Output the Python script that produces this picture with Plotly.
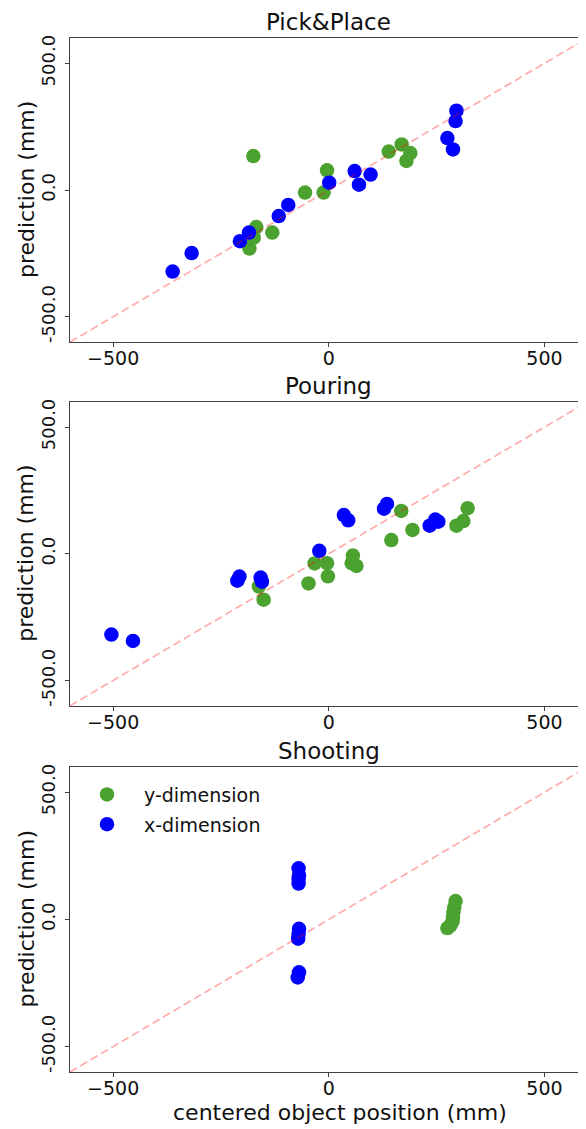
import plotly.graph_objects as go

# ---------------- data ----------------
titles = ["Pick&Place", "Pouring", "Shooting"]

pp_x_true = [-362, -318, -206, -185, -116, -94, 1, 60, 70, 97, 275, 288, 294, 296]
pp_x_pred = [-322, -249, -202, -168, -103, -59, 29, 75, 21, 61, 205, 160, 272, 313]
pp_y_true = [-175, -168, -174, -184, -131, -55, -12, -4, 139, 169, 189, 180]
pp_y_pred = [134, -146, -188, -231, -168, -10, -10, 78, 152, 180, 146, 115]

po_x_true = [-504, -454, -212, -207, -158, -155, -22, 35, 45, 128, 135, 234, 247, 254]
po_x_pred = [-319, -344, -106, -90, -94, -110, 12, 153, 132, 178, 197, 111, 135, 127]
po_y_true = [-162, -151, -47, -33, -4, -2, 56, 53, 64, 145, 168, 194, 296, 312, 322]
po_y_pred = [-129, -181, -117, -38, -37, -89, -7, -37, -48, 54, 169, 94, 111, 129, 180]

sh_x_true = [-70, -69, -70, -69, -70, -71, -69, -72, -70]
sh_x_pred = [201, 174, 141, -37, -57, -76, -208, -228, 160]
sh_y_true = [294, 291, 289, 288, 287, 282, 275]
sh_y_pred = [72, 48, 28, 8, -8, -24, -34]

diag = [-600, 600]
x_ticks = [-500, 0, 500]
x_tick_text = ["\u2212500", "0", "500"]
y_ticks = [-500, 0, 500]
y_tick_text = ["-500.0", "0.0", "500.0"]

panels = [
    (pp_y_true, pp_y_pred, pp_x_true, pp_x_pred),
    (po_y_true, po_y_pred, po_x_true, po_x_pred),
    (sh_y_true, sh_y_pred, sh_x_true, sh_x_pred),
]

# ---------------- layout geometry (page pixels) ----------------
OFF = 8                      # default page body margin
PAGE_W, PAGE_H = 586, 1129
W, H = PAGE_W - OFF, PAGE_H - OFF
P_L, P_T, P_B = 70, 37.5, 1072.0
ML, MR, MT, MB = P_L - OFF, 0, P_T - OFF, PAGE_H - P_B
plot_h = P_B - P_T
plot_w = PAGE_W - P_L
panel_px = [(37.5, 341.7), (401.5, 705.6), (766.7, 1072.0)]

def dom(top, bot):
    return [(P_B - bot) / plot_h, (P_B - top) / plot_h]

def ypaper(py):
    return (P_B - py) / plot_h

GREEN = "#4ca22f"
BLUE = "#0000ff"
LINE = "rgba(255,0,0,0.33)"
FONT = "DejaVu Sans"
AX = "#404040"
TXT = "#111111"

fig = go.Figure()
for i, (yt, yp, xt, xp) in enumerate(panels):
    sfx = "" if i == 0 else str(i + 1)
    fig.add_trace(go.Scatter(
        x=yt, y=yp, mode="markers", name="y-dimension",
        marker=dict(color=GREEN, size=14.5, line=dict(width=0)),
        xaxis="x" + sfx, yaxis="y" + sfx, showlegend=(i == 2),
        legendgroup="g1"))
    fig.add_trace(go.Scatter(
        x=xt, y=xp, mode="markers", name="x-dimension",
        marker=dict(color=BLUE, size=14.5, line=dict(width=0)),
        xaxis="x" + sfx, yaxis="y" + sfx, showlegend=(i == 2),
        legendgroup="g2"))
    fig.add_trace(go.Scatter(
        x=diag, y=diag, mode="lines",
        line=dict(color=LINE, width=1.7, dash="8px,4px"),
        xaxis="x" + sfx, yaxis="y" + sfx, showlegend=False,
        hoverinfo="skip"))

layout = dict(
    width=W, height=H,
    margin=dict(l=ML, r=MR, t=MT, b=MB, pad=0),
    paper_bgcolor="white", plot_bgcolor="white",
    font=dict(family=FONT, size=19, color=TXT),
    showlegend=True,
    legend=dict(x=0.0, y=ypaper(775.5), xanchor="left", yanchor="top",
                xref="paper", yref="paper",
                font=dict(family=FONT, size=19, color=TXT),
                bgcolor="rgba(0,0,0,0)", itemwidth=64,
                tracegroupgap=2),
)

annotations = []
for i in range(3):
    sfx = "" if i == 0 else str(i + 1)
    top, bot = panel_px[i]
    d = dom(top, bot)
    layout["xaxis" + sfx] = dict(
        domain=[0, 1], range=[-600, -600 + plot_w / 0.4313], anchor="y" + sfx,
        tickmode="array", tickvals=x_ticks, ticktext=x_tick_text,
        ticks="outside", ticklen=4, tickwidth=1.2, tickcolor=AX,
        showline=True, linecolor=AX, linewidth=1.3, mirror=True,
        showgrid=False, zeroline=False, ticklabelstandoff=-5,
        tickfont=dict(family=FONT, size=19, color=TXT),
    )
    layout["yaxis" + sfx] = dict(
        domain=d, range=[-600, 600], anchor="x" + sfx,
        tickmode="array", tickvals=y_ticks, ticktext=y_tick_text,
        ticks="outside", ticklen=4, tickwidth=1.2, tickcolor=AX,
        showline=True, linecolor=AX, linewidth=1.3,
        showgrid=False, zeroline=False, tickangle=-90,
        ticklabelstandoff=3,
        tickfont=dict(family=FONT, size=18, color=TXT),
    )
    annotations.append(dict(
        text=titles[i], xref="x" + sfx, x=0, yref="paper", y=d[1],
        xanchor="center", yanchor="bottom", yshift=2, showarrow=False,
        borderpad=0,
        font=dict(family=FONT, size=23, color=TXT)))
    annotations.append(dict(
        text="prediction (mm)", xref="paper", x=0, xshift=-44,
        yref="paper", y=(d[0] + d[1]) / 2, xanchor="center",
        yanchor="middle", textangle=-90, showarrow=False,
        font=dict(family=FONT, size=22, color=TXT)))

annotations.append(dict(
    text="centered object position (mm)", xref="paper",
    x=(340 - P_L) / plot_w, yref="paper", y=0, yshift=-26,
    xanchor="center", yanchor="top", showarrow=False,
    font=dict(family=FONT, size=22, color=TXT)))

layout["annotations"] = annotations
fig.update_layout(**layout)
fig.write_html("out.html")
